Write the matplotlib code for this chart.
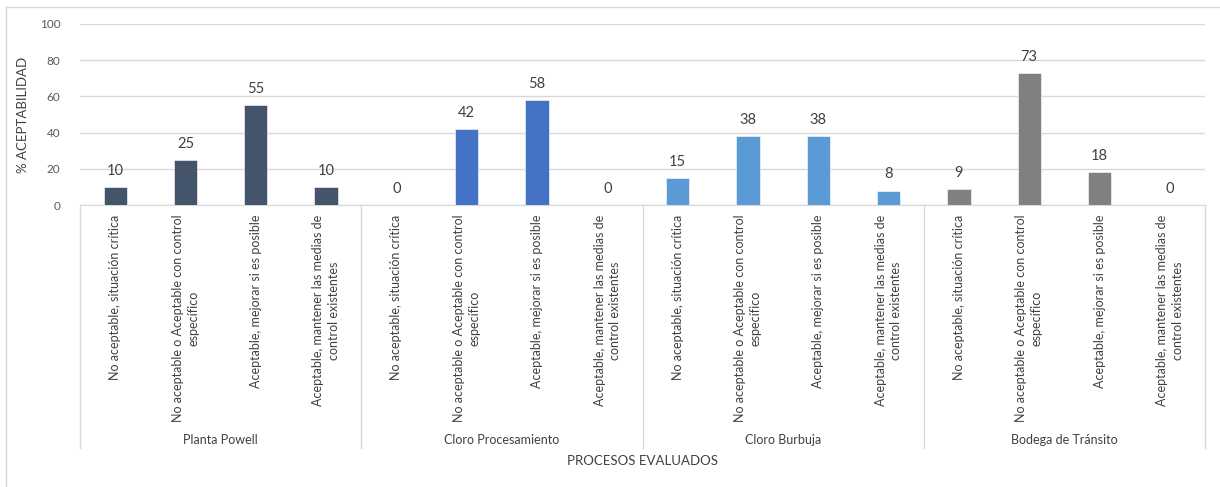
import matplotlib.pyplot as plt
from matplotlib.lines import Line2D
import matplotlib.transforms as mtransforms

plt.rcParams['font.family'] = ['Lato', 'DejaVu Sans']

groups = ['Planta Powell', 'Cloro Procesamiento', 'Cloro Burbuja', 'Bodega de Tránsito']
levels = ['No aceptable, situación crítica',
          'No aceptable o Aceptable con control\nespecífico',
          'Aceptable, mejorar si es posible',
          'Aceptable, mantener las medias de\ncontrol existentes']
values = [
    [10, 25, 55, 10],
    [0, 42, 58, 0],
    [15, 38, 38, 8],
    [9, 73, 18, 0],
]
colors = ['#44546A', '#4472C4', '#5B9BD5', '#808080']

W, H = 1220, 487
fig = plt.figure(figsize=(W / 100, H / 100), dpi=100)
ax = fig.add_axes([80 / W, 1 - 205 / H, (1205 - 80) / W, (205 - 24) / H])

x = 0
ticks, labels = [], []
for g, vals in enumerate(values):
    for i, v in enumerate(vals):
        ax.bar(x, v, width=0.33, color=colors[g], edgecolor='white', linewidth=0.4, zorder=3)
        ax.text(x, v + 5, str(v), ha='center', va='bottom', fontsize=10.5, color='#404040')
        ticks.append(x)
        labels.append(levels[i])
        x += 1

ax.set_xlim(-0.5, x - 0.5)
ax.set_ylim(0, 100)
ax.set_yticks(range(0, 101, 20))
ax.yaxis.grid(True, color='#D9D9D9', linewidth=1)
ax.set_axisbelow(True)
for s in ['top', 'right', 'left']:
    ax.spines[s].set_visible(False)
ax.spines['bottom'].set_color('#D9D9D9')
ax.tick_params(axis='y', length=0, labelsize=8.5, labelcolor='#595959', pad=14)
ax.set_xticks(ticks)
ax.set_xticklabels(labels, rotation=90, fontsize=9, color='#404040', va='top', ha='center',
                   multialignment='center', linespacing=1.35)
ax.tick_params(axis='x', length=0, pad=7)
ax.set_ylabel('% ACEPTABILIDAD', fontsize=9.5, color='#404040', labelpad=8)

# group separators and group names below the category labels
trans = mtransforms.blended_transform_factory(ax.transData, fig.transFigure)
y_top = 1 - 205 / H
y_bot = 1 - 448 / H
for k in range(len(groups) + 1):
    xs = k * 4 - 0.5
    fig.add_artist(Line2D([xs, xs], [y_top, y_bot], transform=trans, color='#D9D9D9', lw=1))
for k, name in enumerate(groups):
    fig.text(k * 4 + 1.5, 1 - 440 / H, name, transform=trans, ha='center', va='center',
             fontsize=9, color='#404040')

fig.text((80 + 1205) / 2 / W, 1 - 461 / H, 'PROCESOS EVALUADOS', ha='center', va='center',
         fontsize=9.5, color='#404040')

# chart border
fig.add_artist(Line2D([6 / W, 6 / W], [1 - 7 / H, 0], color='#D9D9D9', lw=1))
fig.add_artist(Line2D([6 / W, 1], [1 - 7 / H, 1 - 7 / H], color='#D9D9D9', lw=1))

fig.savefig('out.png', dpi=100)
